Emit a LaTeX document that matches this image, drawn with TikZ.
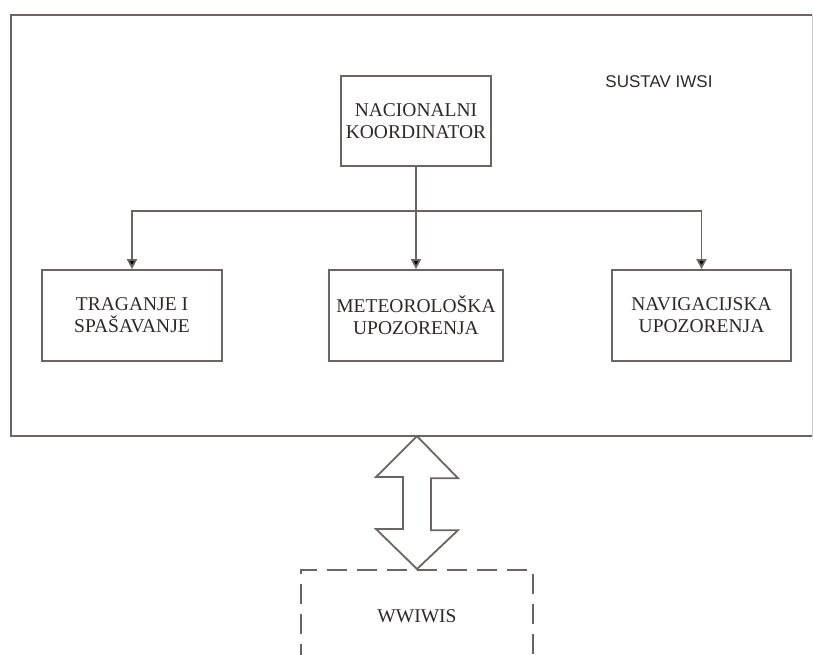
\documentclass[tikz,border=0pt]{standalone}
\usepackage{fontspec}
\setmainfont{Liberation Serif}
\newfontfamily\labelsans{Liberation Sans}
\usepackage{xcolor}
\usepackage{tikz}
\usetikzlibrary{arrows.meta, positioning}

\definecolor{edgegray}{RGB}{108,100,98}
\definecolor{textgray}{RGB}{45,41,41}

\begin{document}
\begin{tikzpicture}[
    x=1pt, y=-1pt,
    unit/.style={draw=edgegray, line width=1.8pt, fill=white, rectangle, inner sep=0pt, align=center,
                 text=textgray, font=\fontsize{19.5}{22}\selectfont},
    dashbox/.style={draw=edgegray, line width=1.8pt, dash pattern=on 20pt off 10pt, rectangle, inner sep=0pt,
                 align=center, text=textgray, font=\fontsize{19.5}{22}\selectfont},
    arrow/.style={-{Triangle[length=10pt,width=10pt,fill=black]}, draw=edgegray, line width=1.8pt},
    bigarrow/.style={draw=edgegray, line width=1.8pt, fill=white, line join=miter}
]
    \useasboundingbox (0,0) rectangle (813,655);

    \node[rectangle, minimum width=801pt, minimum height=421pt, inner sep=0pt] (iwsi) at (411.5,225.5) {};
    \draw[edgegray, line width=2pt] (iwsi.north east) -- (iwsi.north west) -- (iwsi.south west) -- (iwsi.south east);
    \draw[edgegray!35, line width=1.2pt] (iwsi.north east) -- (iwsi.south east);
    \node[text=textgray, font=\labelsans\fontsize{17}{20}\selectfont] (title) at (659,82) {SUSTAV IWSI};

    \node[unit, minimum width=150pt, minimum height=90pt] (nk) at (416,121) {NACIONALNI\\KOORDINATOR};
    \node[unit, minimum width=180pt, minimum height=91pt] (sar) at (132,315.5) {TRAGANJE I\\SPAŠAVANJE};
    \node[unit, minimum width=174pt, minimum height=91pt] (meteo) at (416,315.5) {METEOROLOŠKA\\UPOZORENJA};
    \node[unit, minimum width=179pt, minimum height=91pt] (nav) at (701.5,315.5) {NAVIGACIJSKA\\UPOZORENJA};

    \node[dashbox, minimum width=232pt, minimum height=92pt, anchor=north] (wwiwis) at (417,569) {WWIWIS};

    \coordinate (split) at (416,211);
    \draw[edgegray, line width=1.8pt] (nk.south) -- (split);
    \draw[arrow] (split) -- (meteo.north);
    \draw[arrow] (split) -| (sar.north);
    \draw[arrow] (split) -| (nav.north);

    \coordinate (linktop) at (iwsi.south -| wwiwis.north);
    \draw[bigarrow] (linktop) -- ++(41,42) -- ++(-27,0) -- ++(0,52) -- ++(27,0)
        -- (wwiwis.north) -- ++(-41,-40) -- ++(27,0) -- ++(0,-52) -- ++(-27,0) -- cycle;
\end{tikzpicture}
\end{document}
